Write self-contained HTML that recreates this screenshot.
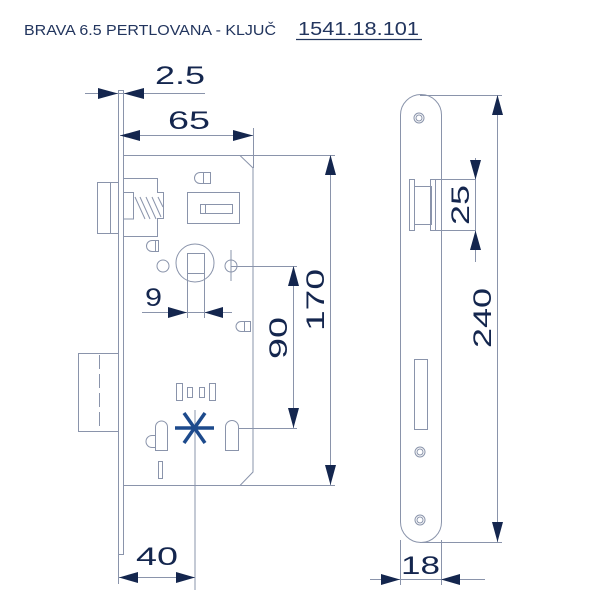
<!DOCTYPE html>
<html><head><meta charset="utf-8"><style>
html,body{margin:0;padding:0;background:#fff;}
svg{display:block;}
.l{stroke:#8a94ab;stroke-width:1;fill:none;}
.t{font-family:"Liberation Sans",sans-serif;fill:#14264e;font-size:25px;}
.a{fill:#14264e;}
</style></head><body>
<svg width="600" height="600" viewBox="0 0 600 600" xmlns="http://www.w3.org/2000/svg">
<text x="24" y="35" font-family="Liberation Sans, sans-serif" font-size="14.5" fill="#22355e" textLength="252" lengthAdjust="spacingAndGlyphs">BRAVA 6.5 PERTLOVANA - KLJUČ</text>
<text x="298" y="35" font-family="Liberation Sans, sans-serif" font-size="18" fill="#22355e" textLength="121" lengthAdjust="spacingAndGlyphs">1541.18.101</text>
<line x1="296" y1="39.5" x2="422" y2="39.5" stroke="#22355e" stroke-width="1.2"/>

<rect class="l" x="118.5" y="90.5" width="5" height="464"/>
<path class="l" d="M124 155.5 H240 L253 168 V472 L240 485.5 H124"/>
<line class="l" x1="124" y1="155.5" x2="335" y2="155.5"/>
<line class="l" x1="124" y1="485.5" x2="335" y2="485.5"/>
<rect class="l" x="97.5" y="182.5" width="21" height="51"/>
<line class="l" x1="110.5" y1="182" x2="110.5" y2="233"/>
<path class="l" d="M124 178.5 H157.5 V192.5 H163.5 V218.5 H157.5 V236.5 H124"/>
<path class="l" d="M124 192.5 H133.5 V219 H124"/>
<path class="l" d="M135 197 l10 22 M140 197 l10 22 M146 197 l10 22 M152 197 l9 20 M158 197 l5 10"/>
<rect class="l" x="78.5" y="353.5" width="40" height="78"/>
<line class="l" x1="99.5" y1="355" x2="99.5" y2="430" stroke-dasharray="14,5"/>
<path class="l" d="M200 172.5 H210.5 V183.5 H200 A5.5 5.5 0 0 1 200 172.5 Z M203.5 172.5 V183.5"/>
<path class="l" d="M152 240.5 H158.5 V251.5 H152 A5.5 5.5 0 0 1 152 240.5 Z M155.5 240.5 V251.5"/>
<path class="l" d="M241 321.5 H250.5 V331.5 H241 A5 5 0 0 1 241 321.5 Z M244.5 321.5 V331.5"/>
<rect class="l" x="187.5" y="192.5" width="52" height="31"/>
<rect class="l" x="200.5" y="204.5" width="32" height="9"/>
<line class="l" x1="205.5" y1="204.5" x2="205.5" y2="213.5"/>
<circle class="l" cx="195" cy="263" r="19"/>
<rect class="l" x="187.5" y="253.5" width="17" height="20"/>
<circle class="l" cx="163" cy="266" r="6"/>
<circle class="l" cx="231" cy="266" r="6"/>
<line class="l" x1="231" y1="250" x2="231" y2="281"/>
<line class="l" x1="231" y1="266.5" x2="297" y2="266.5"/>
<line class="l" x1="187.5" y1="273" x2="187.5" y2="318"/>
<line class="l" x1="204.5" y1="273" x2="204.5" y2="318"/>
<line class="l" x1="142" y1="312.5" x2="232" y2="312.5"/>
<path class="a" d="M187 312.5 L168 307 V318 Z M204.5 312.5 L223 307 V318 Z"/>
<text class="t" x="145" y="306" textLength="17" lengthAdjust="spacingAndGlyphs">9</text>
<rect class="l" x="176.5" y="383.5" width="6" height="17"/>
<rect class="l" x="187.5" y="387.5" width="5" height="10"/>
<rect class="l" x="199.5" y="387.5" width="5" height="10"/>
<rect class="l" x="209.5" y="383.5" width="6" height="17"/>
<path class="l" d="M155.5 450.5 V427 A6 6 0 0 1 167.5 427 V450.5 Z"/>
<path class="l" d="M155.5 435.5 H152 A6 6 0 0 0 152 447.5 H155.5"/>
<path class="l" d="M225.5 450.5 V427 A6.5 6.5 0 0 1 238.5 427 V450.5 Z"/>
<line class="l" x1="238" y1="428.5" x2="297" y2="428.5"/>
<rect class="l" x="158.5" y="461.5" width="4" height="17"/>
<line class="l" x1="195" y1="410" x2="195" y2="590"/>
<g stroke="#1d4a8c" stroke-width="3.5">
<line x1="175" y1="428" x2="214" y2="428"/>
<line x1="184" y1="413" x2="205" y2="443"/>
<line x1="205" y1="413" x2="184" y2="443"/>
</g>
<line class="l" x1="118.5" y1="555" x2="118.5" y2="584"/>
<line class="l" x1="119" y1="577.5" x2="195" y2="577.5"/>
<path class="a" d="M119 577.5 L138 572 V583 Z M195 577.5 L176 572 V583 Z"/>
<text class="t" x="136" y="565" textLength="42" lengthAdjust="spacingAndGlyphs">40</text>
<line class="l" x1="85" y1="93.5" x2="205" y2="93.5"/>
<path class="a" d="M118 93.5 L98 88 V99 Z M124 93.5 L144 88 V99 Z"/>
<text class="t" x="155" y="84" textLength="50" lengthAdjust="spacingAndGlyphs">2.5</text>
<line class="l" x1="253.5" y1="128" x2="253.5" y2="168"/>
<line class="l" x1="120" y1="135.5" x2="253" y2="135.5"/>
<path class="a" d="M120 135.5 L140 130 V141 Z M253 135.5 L233 130 V141 Z"/>
<text class="t" x="168" y="129" textLength="42" lengthAdjust="spacingAndGlyphs">65</text>
<line class="l" x1="330.5" y1="155" x2="330.5" y2="485"/>
<path class="a" d="M330.5 155 L325 175 H336 Z M330.5 485 L325 465 H336 Z"/>
<text class="t" transform="translate(324,300) rotate(-90)" text-anchor="middle" textLength="62" lengthAdjust="spacingAndGlyphs">170</text>
<line class="l" x1="293.5" y1="266" x2="293.5" y2="428"/>
<path class="a" d="M293.5 266 L288 286 H299 Z M293.5 428 L288 408 H299 Z"/>
<text class="t" transform="translate(287,338) rotate(-90)" text-anchor="middle" textLength="42" lengthAdjust="spacingAndGlyphs">90</text>

<path class="l" d="M400.5 520 V115 A20.5 20.5 0 0 1 441.5 115 V522 A20.5 20.5 0 0 1 400.5 522 Z"/>
<line class="l" x1="420" y1="95.5" x2="502" y2="95.5"/>
<line class="l" x1="420" y1="542.5" x2="502" y2="542.5"/>
<circle class="l" cx="419" cy="118" r="5"/><circle class="l" cx="419" cy="118" r="3"/>
<circle class="l" cx="420" cy="452" r="5"/><circle class="l" cx="420" cy="452" r="3"/>
<circle class="l" cx="420" cy="520" r="5"/><circle class="l" cx="420" cy="520" r="3"/>
<rect class="l" x="414.5" y="359.5" width="13" height="70"/>
<rect class="l" x="409.5" y="179.5" width="5" height="51"/>
<rect class="l" x="414.5" y="186.5" width="17" height="38"/>
<rect class="l" x="430.5" y="179.5" width="5" height="51"/>
<line class="l" x1="435" y1="179.5" x2="476" y2="179.5"/>
<line class="l" x1="435" y1="230.5" x2="476" y2="230.5"/>
<line class="l" x1="475.5" y1="158" x2="475.5" y2="262"/>
<path class="a" d="M475.5 179.5 L470 160 H481 Z M475.5 230.5 L470 250 H481 Z"/>
<text class="t" transform="translate(469,205) rotate(-90)" text-anchor="middle" textLength="40" lengthAdjust="spacingAndGlyphs">25</text>
<line class="l" x1="497.5" y1="95" x2="497.5" y2="542"/>
<path class="a" d="M497.5 95 L492 115 H503 Z M497.5 542 L492 522 H503 Z"/>
<text class="t" transform="translate(491,318) rotate(-90)" text-anchor="middle" textLength="60" lengthAdjust="spacingAndGlyphs">240</text>
<line class="l" x1="400.5" y1="540" x2="400.5" y2="585"/>
<line class="l" x1="441.5" y1="540" x2="441.5" y2="585"/>
<line class="l" x1="370" y1="579.5" x2="485" y2="579.5"/>
<path class="a" d="M400 579.5 L381 574 V585 Z M441 579.5 L460 574 V585 Z"/>
<text class="t" x="401" y="574" textLength="39" lengthAdjust="spacingAndGlyphs">18</text>
</svg>
</body></html>
